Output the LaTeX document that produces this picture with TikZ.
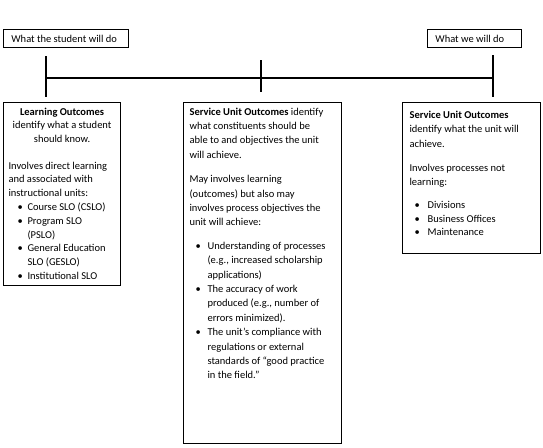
\documentclass[tikz,border=0pt]{standalone}
\usepackage{fontspec}
\setmainfont{Carlito}
\newcommand\firststrut[1]{\rule{0pt}{#1}}
\newcommand\bitem[2]{\hspace*{#1}\makebox[#2][l]{\textbullet}}
\begin{document}
\begin{tikzpicture}[x=1pt,y=-1pt,
  txt/.style={font=\fontsize{10.5}{14}\selectfont},
  labelbox/.style={txt, draw, line width=0.8pt, anchor=north west, inner ysep=0pt, minimum height=18pt},
  outbox/.style={txt, draw, line width=1.1pt, anchor=north west, inner sep=0pt},
  timeline/.style={line width=2.2pt}]
\useasboundingbox (0,0) rectangle (543,447);

% top label boxes
\node[labelbox, inner xsep=8pt] (student) at (3,29) {\makebox[109pt][l]{What the student will do}};
\node[labelbox, inner xsep=8pt] (we) at (427,29) {\makebox[78pt][l]{What we will do}};

% timeline
\coordinate (lt) at (46,56);  \coordinate (lb) at (46,97);
\coordinate (mt) at (261,60); \coordinate (mb) at (261,92);
\coordinate (rt) at (493,55); \coordinate (rb) at (493,97);
\coordinate (lm) at (46,78);  \coordinate (rm) at (493,78);
\draw[timeline] (lt) -- (lb);
\draw[timeline] (mt) -- (mb);
\draw[timeline] (rt) -- (rb);
\draw[timeline] (lm) -- (rm);

% left box
\node[outbox] (learning) at (3,102) {\parbox[c][183pt][t]{117pt}{%
  \fontsize{10.5}{13.8}\selectfont\leftskip=5pt\parindent=0pt\rightskip=0pt plus 1fil
  \firststrut{12.5pt}\makebox[107pt][c]{\textbf{Learning Outcomes}}\\
  \makebox[107pt][c]{identify what a student}\\
  \makebox[107pt][c]{should know.}\\[12.6pt]
  Involves direct learning\\
  and associated with\\
  instructional units:\\
  \bitem{9pt}{10pt}Course SLO (CSLO)\\
  \bitem{9pt}{10pt}Program SLO\\
  \hspace*{19pt}(PSLO)\\
  \bitem{9pt}{10pt}General Education\\
  \hspace*{19pt}SLO (GESLO)\\
  \bitem{9pt}{10pt}Institutional SLO}};

% middle box
\node[outbox] (service) at (183,102) {\parbox[c][341pt][t]{158pt}{%
  \fontsize{10.5}{14.4}\selectfont\leftskip=6pt\parindent=0pt\rightskip=0pt plus 1fil
  \firststrut{12.5pt}\textbf{Service Unit Outcomes} identify\\
  what constituents should be\\
  able to and objectives the unit\\
  will achieve.\\[10pt]
  May involves learning\\
  (outcomes) but also may\\
  involves process objectives the\\
  unit will achieve:\\[9pt]
  \bitem{6pt}{12pt}Understanding of processes\\
  \hspace*{18pt}(e.g., increased scholarship\\
  \hspace*{18pt}applications)\\
  \bitem{6pt}{12pt}The accuracy of work\\
  \hspace*{18pt}produced (e.g., number of\\
  \hspace*{18pt}errors minimized).\\
  \bitem{6pt}{12pt}The unit’s compliance with\\
  \hspace*{18pt}regulations or external\\
  \hspace*{18pt}standards of “good practice\\
  \hspace*{18pt}in the field.”}};

% right box
\node[outbox] (unit) at (402,102) {\parbox[c][151pt][t]{138pt}{%
  \fontsize{10.5}{14.5}\selectfont\leftskip=7pt\parindent=0pt\rightskip=0pt plus 1fil
  \firststrut{15.5pt}\textbf{Service Unit Outcomes}\\
  identify what the unit will\\
  achieve.\\[9.5pt]
  Involves processes not\\
  learning:\\[8.5pt]
  \bitem{5pt}{13pt}Divisions\\[-1pt]
  \bitem{5pt}{13pt}Business Offices\\[-1pt]
  \bitem{5pt}{13pt}Maintenance}};
\end{tikzpicture}
\end{document}
